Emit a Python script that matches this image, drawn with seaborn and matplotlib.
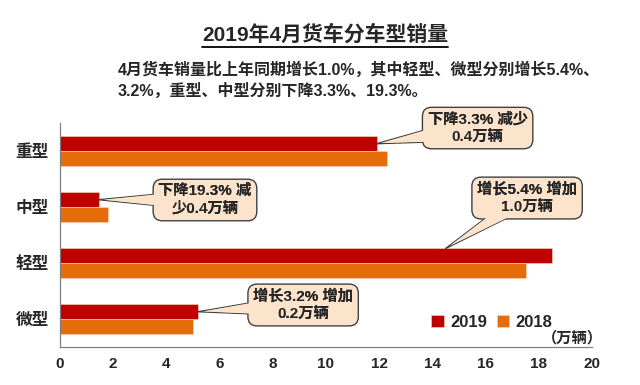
import pandas as pd
import seaborn as sns
import matplotlib.pyplot as plt
from matplotlib.lines import Line2D

categories = ['重型', '中型', '轻型', '微型']
sales_2019 = [11.9, 1.45, 18.5, 5.2]
sales_2018 = [12.3, 1.8, 17.5, 5.0]
years = ['2019', '2018']
notes = ['下降3.3% 减少\n0.4万辆', '下降19.3% 减\n少0.4万辆',
         '增长5.4% 增加\n1.0万辆', '增长3.2% 增加\n0.2万辆']

sns.set_style('white')
plt.rcParams['font.family'] = ['Liberation Sans', 'Noto Sans CJK SC', 'DejaVu Sans']
plt.rcParams['font.weight'] = 'bold'

df = pd.DataFrame({
    'type': categories * 2,
    'sales': sales_2019 + sales_2018,
    'year': [years[0]] * 4 + [years[1]] * 4,
})

fig = plt.figure(figsize=(6.4, 3.85), dpi=100)
ax = fig.add_axes([60 / 640, 1 - 347 / 385, 532 / 640, 224 / 385])

sns.barplot(data=df, x='sales', y='type', hue='year', order=categories, hue_order=years,
            palette=['#C00000', '#E46C0A'], width=0.52, orient='h', ax=ax,
            edgecolor='#f6d9c6', linewidth=0.4, saturation=1)

ax.set_xlim(0, 20)
ax.set_ylim(3.5, -0.5)
ax.set_xticks(range(0, 21, 2))
ax.set_yticks([-0.5, 0.5, 1.5, 2.5, 3.5], minor=True)
ax.tick_params(axis='y', which='major', length=0, pad=8, labelsize=12)
ax.tick_params(axis='y', which='minor', length=4, direction='in', color='#808080', width=0.8)
ax.tick_params(axis='x', length=5, direction='in', color='#808080', width=0.8, labelsize=11, pad=7)
ax.set_xlabel('')
ax.set_ylabel('')
for lab in ax.get_xticklabels() + ax.get_yticklabels():
    lab.set_fontweight('bold')
sns.despine(ax=ax)
for s in ['left', 'bottom']:
    ax.spines[s].set_color('#808080')
    ax.spines[s].set_linewidth(0.9)

leg = ax.legend(loc='center left', bbox_to_anchor=(0.67, 0.11), ncol=2, frameon=False,
                handlelength=0.75, handleheight=0.75, handletextpad=0.4, columnspacing=0.55,
                prop={'size': 12, 'weight': 'bold'})

# callouts: wedge outline, box, wedge fill over box edge, text on top
box_fc = '#FCE4CC'
box_ec = '#404040'
text_pos = [(15.7, -0.41), (5.45, 0.875), (17.56, 0.84), (9.14, 2.75)]
tips = [(sales_2019[0], -0.13), (sales_2019[1], 0.87), (14.5, 1.74), (sales_2019[3], 2.87)]
tails = [1.8, 1.5, 1.3, 1.6]
for note, tp, tip, tw in zip(notes, text_pos, tips, tails):
    style = f'wedge,tail_width={tw},shrink_factor=0.5'
    ax.annotate('', xy=tip, xytext=tp, fontsize=10, zorder=5,
                arrowprops=dict(arrowstyle=style, fc=box_fc, ec=box_ec, lw=1,
                                shrinkA=0, shrinkB=0, patchA=None))
    ax.text(tp[0], tp[1], note, ha='center', va='center', fontsize=11, fontweight='bold',
            linespacing=1.25, zorder=6,
            bbox=dict(boxstyle='round,pad=0.34,rounding_size=0.6', fc=box_fc, ec=box_ec, lw=1))
    ax.annotate('', xy=tip, xytext=tp, fontsize=10, zorder=7,
                arrowprops=dict(arrowstyle=style, fc=box_fc, ec='none', lw=0,
                                shrinkA=0, shrinkB=3, patchA=None))
    ax.text(tp[0], tp[1], note, ha='center', va='center', fontsize=11, fontweight='bold',
            linespacing=1.25, zorder=8)

fig.text(603 / 640, 1 - 338 / 385, '（万辆）', ha='right', va='center', fontsize=11, fontweight='bold')

title = fig.text(0.508, 1 - 35 / 385, '2019年4月货车分车型销量', ha='center', va='center',
                 fontsize=15, fontweight='bold')
fig.text(118 / 640, 1 - 80 / 385,
         '4月货车销量比上年同期增长1.0%，其中轻型、微型分别增长5.4%、\n3.2%，重型、中型分别下降3.3%、19.3%。',
         ha='left', va='center', fontsize=11.5, fontweight='bold', linespacing=1.35)

fig.canvas.draw()
bb = title.get_window_extent().transformed(fig.transFigure.inverted())
fig.add_artist(Line2D([bb.x0, bb.x1], [bb.y0 - 0.004, bb.y0 - 0.004], color='black', lw=1.3,
                      transform=fig.transFigure))

fig.savefig('out.png', dpi=100)
